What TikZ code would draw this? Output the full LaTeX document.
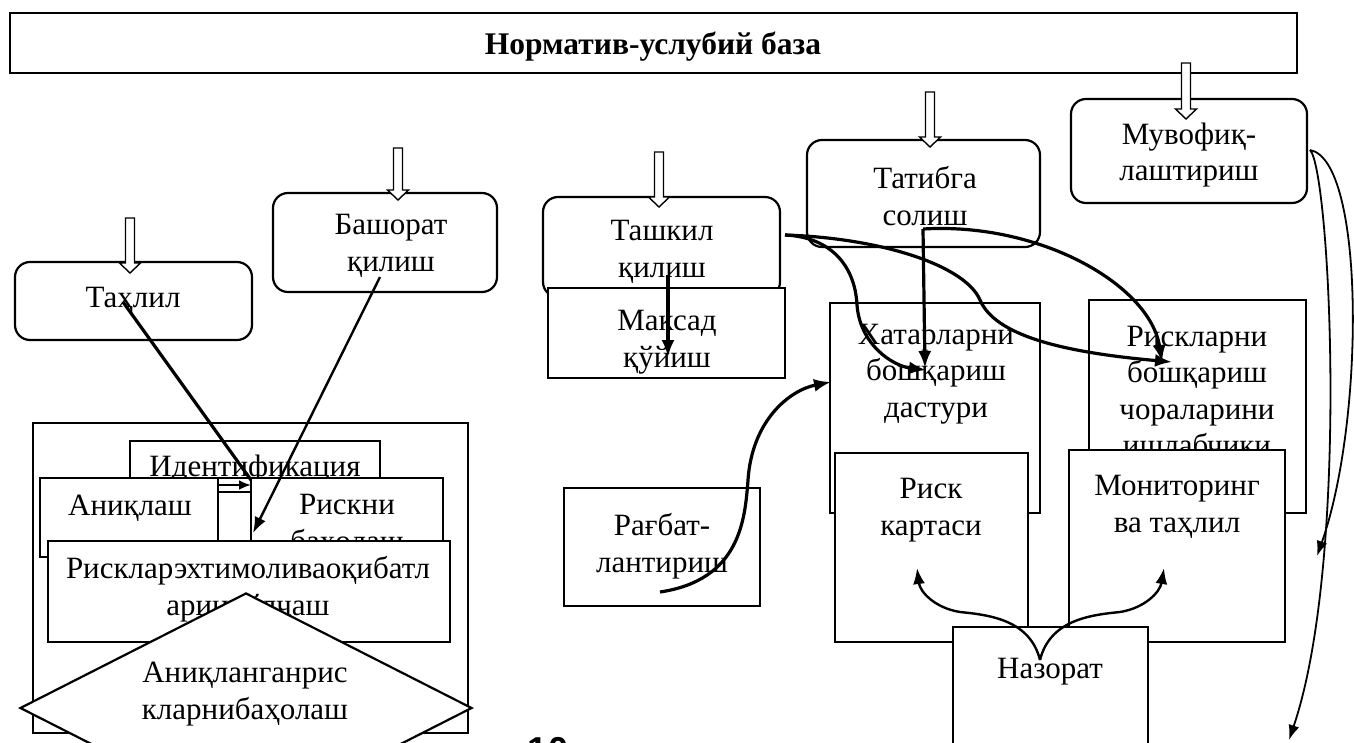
\documentclass[tikz,border=0pt]{standalone}
\usepackage{fontspec}
\setmainfont{Liberation Serif}
\newfontfamily\pagenumfont{Liberation Sans}
\usetikzlibrary{arrows.meta,shapes.geometric,calc}

% hollow downward arrow: #1 = tip coordinate, #2 = total length
\newcommand\openarrowdown[2]{%
  \draw[openarrow] ([shift={(-4.5,-#2)}]#1) -- ([shift={(4.5,-#2)}]#1)
    -- ([shift={(4.5,-10)}]#1) -- ([shift={(10.5,-10)}]#1) -- (#1)
    -- ([shift={(-10.5,-10)}]#1) -- ([shift={(-4.5,-10)}]#1) -- cycle;}

\begin{document}
\begin{tikzpicture}[x=1pt,y=-1pt,
  frame/.style={draw, line width=2.2pt, fill=white, inner sep=0pt},
  rframe/.style={frame, rounded corners=15pt},
  txt/.style={font=\fontsize{31}{36.5}\selectfont, align=center, inner sep=0pt},
  heavy/.style={line width=3.2pt, -{Latex[length=17pt,width=13pt]}},
  medium/.style={line width=2.4pt, -{Latex[length=16pt,width=12pt]}},
  slim/.style={line width=1.8pt, -{Latex[length=15pt,width=11pt]}},
  openarrow/.style={draw, line width=1.4pt, fill=white, line join=miter},
]
\useasboundingbox (0,0) rectangle (1354,742);
\clip (0,0) rectangle (1354,742);

% ---------- title bar ----------
\node[frame, line width=2pt, minimum width=1287, minimum height=60] (base) at (653.5,43) {};
\node[font=\bfseries\fontsize{31.5}{36}\selectfont, inner sep=0pt] (basetext) at (653,47) {Норматив-услубий база};

% ---------- upper rounded blocks ----------
\node[rframe, minimum width=237, minimum height=78] (tahlil) at (133.5,301) {};
\node[txt] (tahliltext) at (133,300) {Таҳлил};

\node[rframe, minimum width=224, minimum height=99] (bashorat) at (385,242.5) {};
\node[txt] (bashorattext) at (391,246) {Башорат\\қилиш};

\node[rframe, minimum width=237, minimum height=100] (tashkil) at (661.5,247) {};
\node[txt] (tashkiltext) at (662,252) {Ташкил\\қилиш};

\node[frame, minimum width=237, minimum height=90] (maqsad) at (666.5,333) {};
\node[txt] (maqsadtext) at (667,342) {Максад\\қўйиш};

\node[rframe, minimum width=233, minimum height=107] (tatibga) at (923.5,193.5) {};
\node[txt] (tatibgatext) at (925,196) {Татибга\\солиш};

\node[rframe, minimum width=236, minimum height=104] (muvofiq) at (1189,151) {};
\node[txt] (muvofiqtext) at (1189,155) {Мувофиқ-\\лаштириш};

% hollow arrows from the normative base
\coordinate (inTahlil) at (130,273);
\coordinate (inBashorat) at (398,200);
\coordinate (inTashkil) at (659,207);
\coordinate (inTatibga) at (930,147);
\coordinate (inMuvofiq) at (1186,119);
\openarrowdown{inTahlil}{55}
\openarrowdown{inBashorat}{52}
\openarrowdown{inTashkil}{55}
\openarrowdown{inTatibga}{55}
\openarrowdown{inMuvofiq}{56}

% ---------- left cluster ----------
\node[frame, line width=2pt, minimum width=435, minimum height=310] (cluster) at (250.5,578) {};
\node[frame, minimum width=250, minimum height=62] (ident) at (255,472) {};
\node[txt] (identtext) at (255,469) {Идентификация};
\node[frame, minimum width=178, minimum height=79] (aniqlash) at (129,517.5) {};
\node[txt] (aniqlashtext) at (130,508) {Аниқлаш};
\node[frame, minimum width=193, minimum height=67] (riskni) at (346.5,511.5) {};
\node[txt] (risknitext) at (347,526) {Рискни\\баҳолаш};
\node[frame, minimum width=33, minimum height=80] (gap) at (234.5,518) {};
\draw[line width=2pt] (gap.west |- 0,492) -- (gap.east |- 0,492);
\node[frame, minimum width=402, minimum height=101] (ehtimol) at (249,591.5) {};
\node[txt] (ehtimoltext) at (248,589) {Рискларэхтимоливаоқибатл\\ариниўлчаш};
\node[draw, line width=2.2pt, fill=white, shape=diamond, inner sep=0pt,
      minimum width=452, minimum height=230] (aniqlangan) at (246,708) {};
\node[txt] (aniqlangantext) at (245,694) {Аниқланганрис\\кларнибаҳолаш};

\coordinate (tahlilOut) at (123,302);
\coordinate (identIn) at (251,480);
\draw[line width=3.2pt] (tahlilOut) -- (identIn);
\coordinate (gapFrom) at (218,485);
\coordinate (gapTo) at (251,485);
\draw[line width=2.4pt, -{Latex[length=12pt,width=10pt]}] (gapFrom) -- (gapTo);
\coordinate (bashoratOut) at (380,277);
\coordinate (baholashIn) at (253,533);
\draw[medium] (bashoratOut) -- (baholashIn);

% ---------- goal setting ----------
\coordinate (tashkilDown) at (668,275);
\coordinate (maqsadIn) at (668,357);
\draw[heavy] (tashkilDown) -- (maqsadIn);

% ---------- right blocks ----------
\node[frame, minimum width=210, minimum height=210] (xatar) at (935,408) {};
\node[txt] (xatartext) at (936,374) {Хатарларни\\бошқариш\\дастури};
\node[frame, minimum width=217, minimum height=213] (chora) at (1197.5,406.5) {};
\node[txt] (choratext) at (1197,391) {Рискларни\\бошқариш\\чораларини\\ишлабчики};
\node[frame, minimum width=193, minimum height=189] (karta) at (931.5,547.5) {};
\node[txt] (kartatext) at (931,510) {Риск\\картаси};
\node[frame, minimum width=216, minimum height=192] (monitor) at (1177,546) {};
\node[txt] (monitortext) at (1177,507) {Мониторинг\\ва таҳлил};
\node[frame, minimum width=195, minimum height=140] (nazorat) at (1050.5,697) {};
\node[txt] (nazorattext) at (1050,672) {Назорат};

\node[frame, minimum width=196, minimum height=118] (ragbat) at (662,547) {};
\node[txt] (ragbattext) at (662,546) {Рағбат-\\лантириш};

% curved links from organisation and coordination
\coordinate (tashkilOut) at (785,235);
\coordinate (xatarIn) at (926,370);
\coordinate (choraIn) at (1172,362);
\draw[heavy] (tashkilOut) .. controls (830,237) and (855,265) .. (857,305)
  .. controls (860,345) and (893,366) .. (xatarIn);
\draw[heavy] (tashkilOut) .. controls (880,238) and (965,265) .. (980,300)
  .. controls (995,335) and (1060,352) .. (choraIn);

\coordinate (tatibgaOut) at (923,229);
\coordinate (xatarIn2) at (925,368);
\coordinate (choraIn2) at (1162,362);
\draw[heavy] (tatibgaOut) -- (xatarIn2);
\draw[heavy] (tatibgaOut) .. controls (1040,222) and (1150,285) .. (choraIn2);

\coordinate (ragbatOut) at (660,592);
\coordinate (xatarSide) at (831,382);
\draw[heavy] (ragbatOut) .. controls (740,580) and (745,520) .. (748,480)
  .. controls (752,420) and (790,390) .. (xatarSide);

\coordinate (nazoratOut) at (1040,660);
\coordinate (kartaIn) at (917,568);
\coordinate (monitorIn) at (1164,568);
\draw[medium] (nazoratOut) .. controls (1030,620) and (990,615) .. (960,612)
  .. controls (935,608) and (920,592) .. (kartaIn);
\draw[medium] (nazoratOut) .. controls (1050,620) and (1090,615) .. (1120,612)
  .. controls (1145,608) and (1160,592) .. (monitorIn);

\coordinate (muvofiqOut) at (1310,150);
\coordinate (monitorSide) at (1317,556);
\coordinate (nazoratSide) at (1289,740);
\draw[slim] (muvofiqOut) .. controls (1365,160) and (1365,420) .. (monitorSide);
\draw[slim] (muvofiqOut) .. controls (1330,170) and (1350,560) .. (nazoratSide);

% page number at the lower edge
\node[font=\pagenumfont\bfseries\fontsize{36}{40}\selectfont, anchor=north, inner sep=0pt]
  (pageno) at (548,737) {10};
\end{tikzpicture}
\end{document}
